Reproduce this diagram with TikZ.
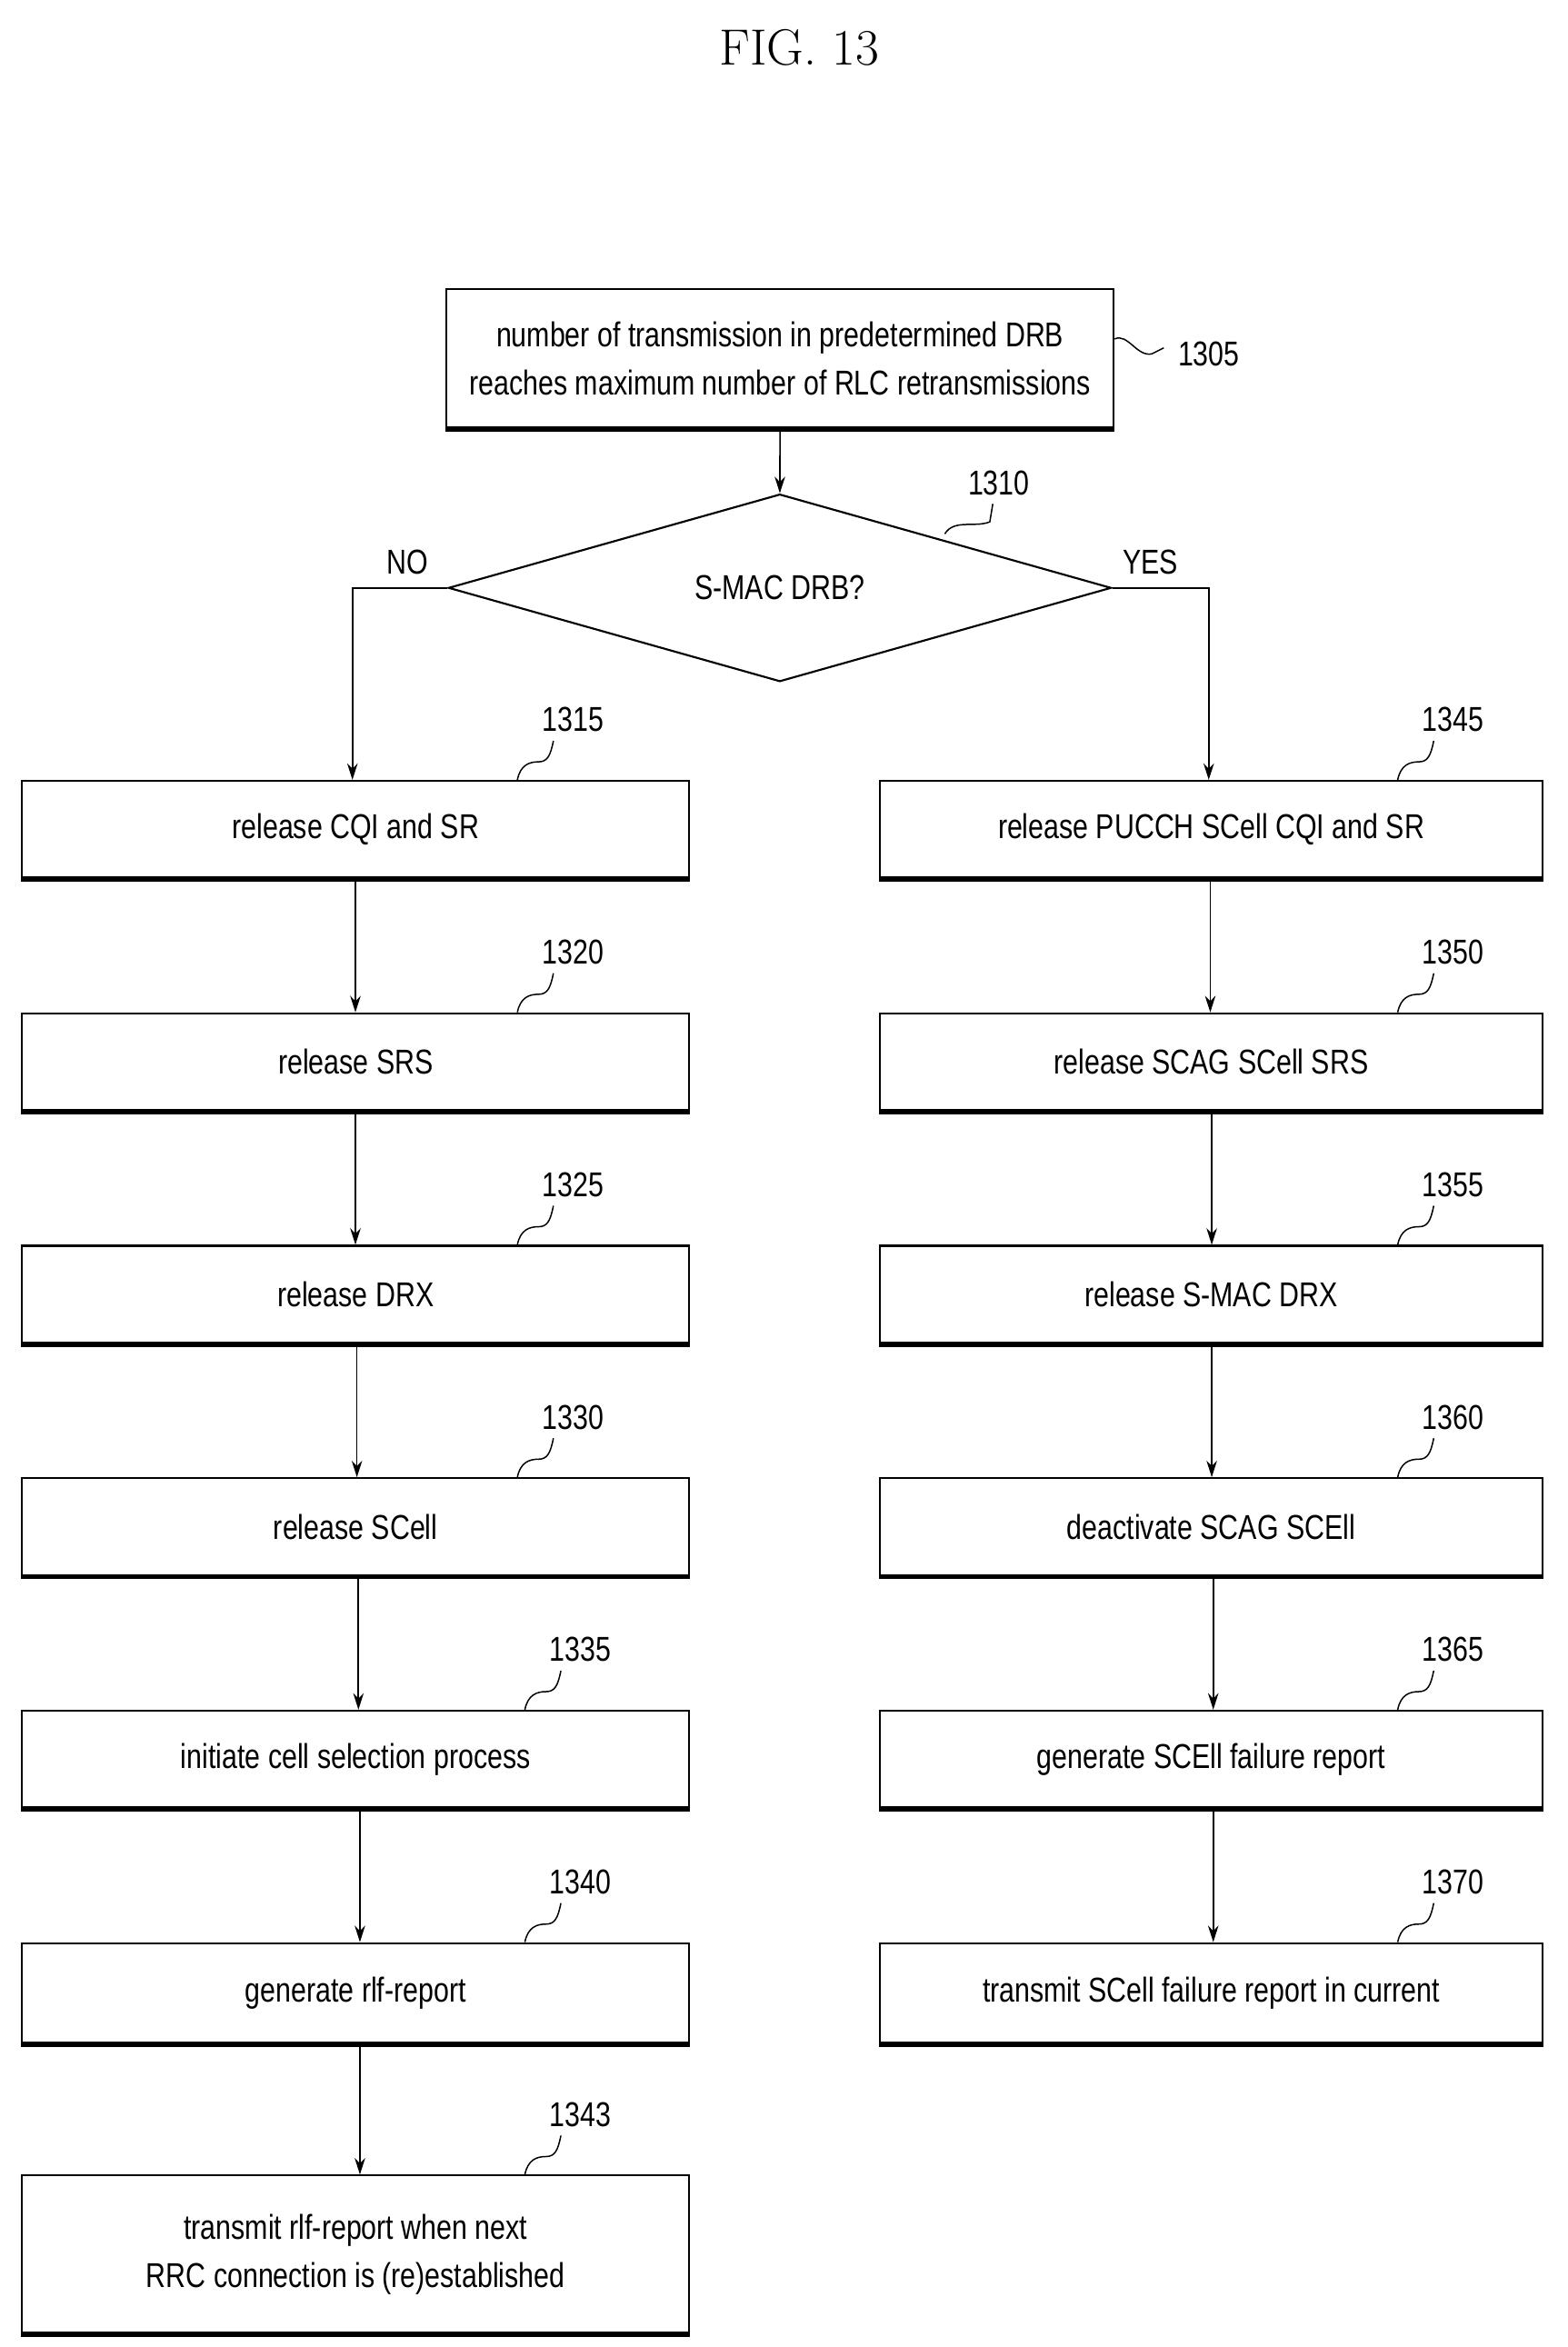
\documentclass[tikz,border=0pt]{standalone}
\usepackage{fontspec}
\newfontfamily\cf[FakeStretch=0.8]{Liberation Sans}
\usetikzlibrary{arrows.meta,shapes.geometric}
\begin{document}
\begin{tikzpicture}[x=1pt,y=-1pt,
  box/.style={draw,line width=1.3pt,minimum height=65pt,minimum width=445pt,inner sep=0pt,align=center,font=\cf\fontsize{23}{32}\selectfont,anchor=north west},
  arr/.style={line width=1pt,-{Stealth[length=11pt,width=7pt]}},
  lab/.style={font=\cf\fontsize{23}{26}\selectfont},
  lead/.style={line width=0.9pt}]
\useasboundingbox (0,0) rectangle (1045,1565);
\node[font=\fontsize{34}{40}\selectfont] (title) at (533,32) {FIG. 13};
\node[box,minimum height=93pt] (b1305) at (297,192) {number of transmission in predetermined DRB\\reaches maximum number of RLC retransmissions};
\node[draw,diamond,line width=1.3pt,minimum width=442pt,minimum height=125pt,aspect=3.5,inner sep=0pt,font=\cf\fontsize{23}{26}\selectfont] (d1310) at (520,392) {S-MAC DRB?};
% left column
\node[box] (b1315) at (14,520) {release CQI and SR};
\node[box] (b1320) at (14,675) {release SRS};
\node[box] (b1325) at (14,830) {release DRX};
\node[box] (b1330) at (14,985) {release SCell};
\node[box] (b1335) at (14,1140) {initiate cell selection process};
\node[box,minimum height=67pt] (b1340) at (14,1295) {generate rlf-report};
\node[box,minimum height=105pt] (b1343) at (14,1450) {transmit rlf-report when next\\RRC connection is (re)established};
% right column
\node[box,minimum width=442pt] (b1345) at (586,520) {release PUCCH SCell CQI and SR};
\node[box,minimum width=442pt] (b1350) at (586,675) {release SCAG SCell SRS};
\node[box,minimum width=442pt] (b1355) at (586,830) {release S-MAC DRX};
\node[box,minimum width=442pt] (b1360) at (586,985) {deactivate SCAG SCEll};
\node[box,minimum width=442pt] (b1365) at (586,1140) {generate SCEll failure report};
\node[box,minimum width=442pt,minimum height=67pt] (b1370) at (586,1295) {transmit SCell failure report in current};
% thick bottoms
\foreach \n in {b1305,b1315,b1320,b1325,b1330,b1335,b1340,b1343,b1345,b1350,b1355,b1360,b1365,b1370}
  \draw[line width=3.5pt] (\n.south west) -- (\n.south east);
% connectors
\draw[arr] (b1305.south) -- (d1310.north);
\node[lab] (no) at (272,375) {NO};
\node[lab] (yes) at (767,375) {YES};
\coordinate (nl) at (235,392);
\coordinate (nr) at (806,392);
\draw[arr] (d1310.west) -- (nl) -- (nl |- b1315.north);
\draw[arr] (d1310.east) -- (nr) -- (nr |- b1345.north);
\foreach \a/\b/\x in {b1315/b1320/237,b1320/b1325/237,b1325/b1330/238,b1330/b1335/239,b1335/b1340/240,b1340/b1343/240,
  b1345/b1350/807,b1350/b1355/808,b1355/b1360/808,b1360/b1365/809,b1365/b1370/809}
  \draw[arr] (\x,0 |- \a.south) -- (\x,0 |- \b.north);
% reference labels
\node[lab] (l1305) at (806,236) {1305};
\draw[lead] (b1305.east |- 0,226) .. controls (752,222) and (758,238) .. (768,236) -- (776,232);
\node[lab] (l1310) at (666,322) {1310};
\draw[lead] (630,356) .. controls (636,346) and (650,352) .. (660,348) -- (662,336);
\foreach \n/\x/\y/\t in {b1315/345/520/1315,b1320/345/675/1320,b1325/345/830/1325,b1330/345/985/1330,b1335/350/1140/1335,b1340/350/1295/1340,b1343/350/1450/1343,
  b1345/932/520/1345,b1350/932/675/1350,b1355/932/830/1355,b1360/932/985/1360,b1365/932/1140/1365,b1370/932/1295/1370}{
  \node[lab] (l\t) at (\x+37,\y-40) {\t};
  \draw[lead] (\x,\y) .. controls (\x+2,\y-10) and (\x+8,\y-12) .. (\x+14,\y-12) .. controls (\x+20,\y-12) and (\x+22,\y-16) .. (\x+24,\y-26);
}
\end{tikzpicture}
\end{document}
